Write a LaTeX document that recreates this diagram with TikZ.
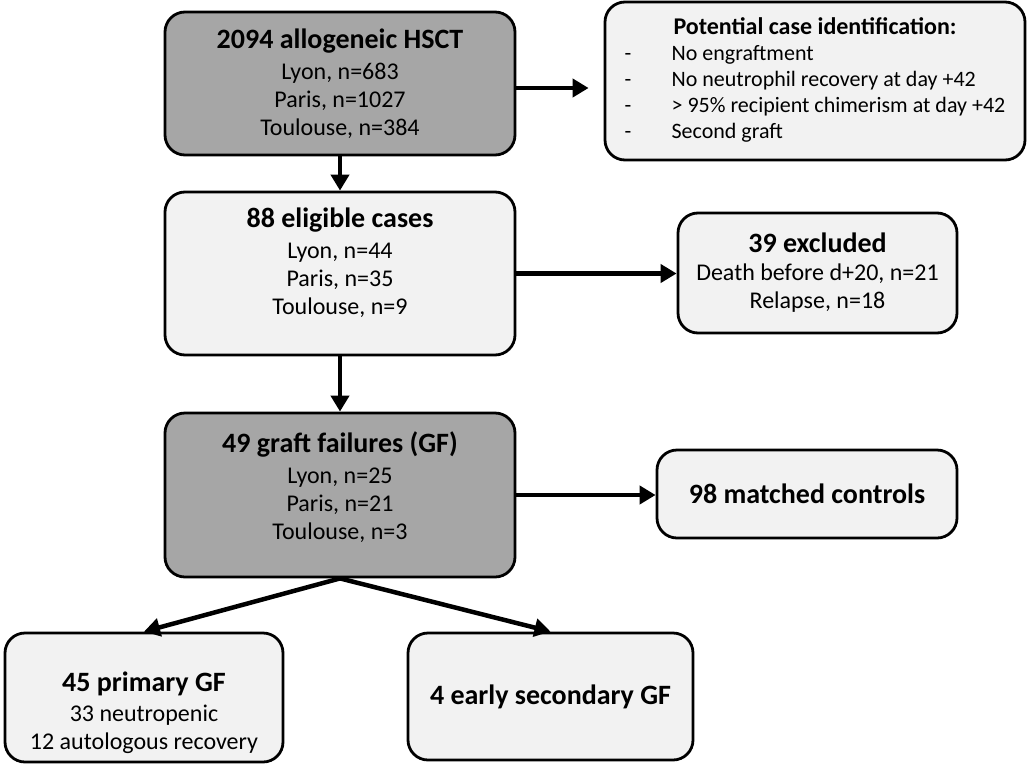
\documentclass[tikz,border=0pt]{standalone}
\usepackage{fontspec}
\setmainfont{Carlito}
\usetikzlibrary{arrows.meta}
\definecolor{boxdark}{HTML}{A6A6A6}
\definecolor{boxlight}{HTML}{F2F2F2}
\newcommand{\head}[1]{{\fontsize{28}{30}\selectfont\bfseries #1}}
\newcommand{\padabove}[1]{\rule{0pt}{#1}}
\newcommand{\padbelow}[1]{\rule[-#1]{0pt}{#1}}

\begin{document}
\begin{tikzpicture}[x=1pt,y=-1pt,
  font=\fontsize{24}{28}\selectfont,
  box/.style={draw,line width=2.8pt,rounded corners=20pt,align=center,inner sep=0pt},
  dark/.style={box,fill=boxdark},
  light/.style={box,fill=boxlight},
  arr/.style={line width=4.5pt,-{Triangle[length=16pt,width=18pt]}}]
  \useasboundingbox (0,0) rectangle (1030,763);
  % boxes
  \node[dark,minimum width=350,minimum height=143] (hsct) at (340,83.5)
    {\head{2094 allogeneic HSCT}\\[3pt]Lyon, n=683\\Paris, n=1027\\Toulouse, n=384};
  \node[light,minimum width=420,minimum height=158] (potential) at (815,81)
    {\fontsize{22}{26}\selectfont
     \begin{tabular}{@{}p{47pt}@{}l@{}}
       \multicolumn{2}{c}{\fontsize{24}{26}\selectfont\bfseries Potential case identification:}\\
       -&No engraftment\\
       -&No neutrophil recovery at day +42\\
       -&> 95\% recipient chimerism at day +42\\
       -&Second graft
     \end{tabular}};
  \node[light,minimum width=350,minimum height=163] (eligible) at (340,273.5)
    {\head{88 eligible cases}\\[3pt]Lyon, n=44\\Paris, n=35\\Toulouse, n=9\padbelow{24pt}};
  \node[light,minimum width=279,minimum height=120] (excluded) at (817.5,273)
    {\head{39 excluded}\\Death before d+20, n=21\\Relapse, n=18};
  \node[dark,minimum width=350,minimum height=164] (gf) at (340,495)
    {\head{49 graft failures (GF)}\\[3pt]Lyon, n=25\\Paris, n=21\\Toulouse, n=3\padbelow{18pt}};
  \node[light,minimum width=300,minimum height=88] (matched) at (807,494)
    {\head{98 matched controls}};
  \node[light,minimum width=278,minimum height=129] (primary) at (144,697.5)
    {\padabove{50pt}\head{45 primary GF}\\[2pt]33 neutropenic\\12 autologous recovery};
  \node[light,minimum width=285,minimum height=127] (early) at (550.5,696.5)
    {\head{4 early secondary GF}};
  % arrows
  \draw[arr,shorten >=15pt] ([yshift=-4.5pt]hsct.east) -- ([yshift=-4.5pt]hsct.east -| potential.west);
  \draw[arr] (hsct.south) -- (eligible.north);
  \draw[arr] (eligible.east) -- (eligible.east -| excluded.west);
  \draw[arr] (eligible.south) -- (gf.north);
  \draw[arr] (gf.east) -- (gf.east -| matched.west);
  \draw[arr] (gf.south) -- (primary.north);
  \draw[arr] (gf.south) -- (early.north);
\end{tikzpicture}
\end{document}
